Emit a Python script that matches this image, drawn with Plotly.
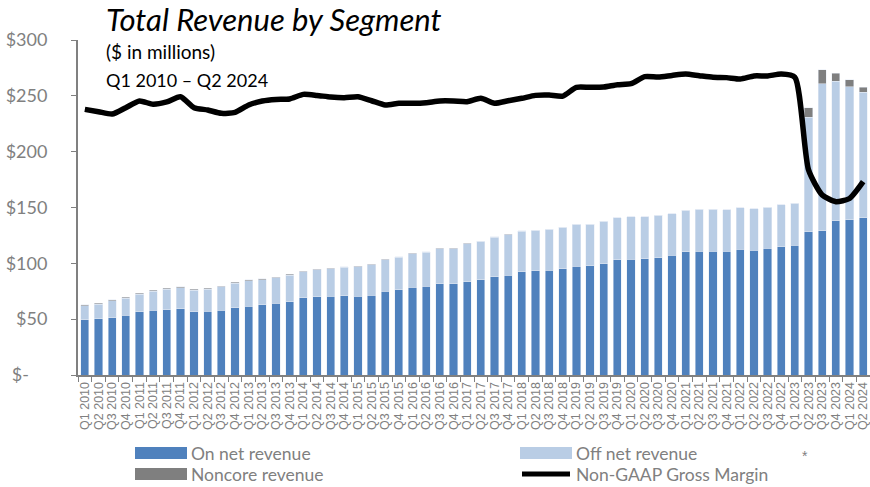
import plotly.graph_objects as go

quarters = [f"Q{q} {y}" for y in range(2010, 2025) for q in range(1, 5)][:58]

on_net = [49.3, 50.4, 51.3, 53.4, 56.7, 57.9, 58.5, 59.4, 56.7, 57.3, 58.2, 60.3, 61.5, 62.7,
          64.3, 65.7, 69.0, 70.1, 70.7, 71.0, 70.7, 71.6, 75.2, 76.4, 78.5, 79.4, 81.8, 81.8,
          83.6, 85.4, 88.0, 89.2, 92.5, 93.4, 94.0, 95.2, 97.3, 97.9, 99.7, 103.0, 103.6, 104.2,
          105.1, 107.2, 110.2, 111.0, 111.0, 110.7, 112.8, 111.9, 113.4, 114.9, 116.4, 128.1,
          129.2, 138.2, 139.1, 140.9]
total_top = [62.7, 64.2, 67.2, 69.6, 73.2, 76.1, 77.6, 79.1, 76.7, 77.6, 79.7, 83.0, 85.1, 86.0,
             87.7, 90.1, 93.1, 94.9, 95.8, 97.0, 97.6, 99.1, 103.6, 106.0, 109.0, 110.2, 113.4,
             113.4, 117.9, 120.0, 123.6, 126.0, 129.0, 129.8, 130.7, 132.5, 134.9, 135.2, 137.6,
             140.9, 141.5, 141.5, 143.0, 144.5, 147.5, 148.4, 148.4, 147.8, 149.6, 149.0, 150.4,
             152.5, 154.0, 239.4, 273.4, 270.1, 264.2, 257.6]
noncore = [0.9, 0.9, 0.9, 0.9, 0.9, 0.9, 0.8, 0.8, 0.8, 0.8, 0.8, 0.8, 0.7, 0.7,
           0.6, 0.6, 0.6, 0.6, 0.5, 0.5, 0.5, 0.5, 0.4, 0.4, 0.4, 0.4, 0.4, 0.4,
           0.3, 0.3, 0.3, 0.3, 0.3, 0.3, 0.3, 0.3, 0.0, 0.0, 0.0, 0.0, 0.0, 0.0,
           0.0, 0.0, 0.0, 0.0, 0.0, 0.0, 0.0, 0.0, 0.0, 0.0, 0.0, 8.7,
           12.5, 7.2, 6.0, 4.2]
off_net = [round(t - o - n, 1) for t, o, n in zip(total_top, on_net, noncore)]
gross_margin = [237.9, 235.8, 233.7, 239.4, 245.4, 242.4, 244.5, 249.2, 239.4, 237.3, 234.3, 235.2,
                241.8, 245.4, 246.8, 247.2, 251.3, 250.4, 248.9, 248.3, 249.2, 245.6, 241.8, 243.3,
                243.3, 243.9, 245.4, 245.4, 244.8, 247.8, 243.3, 245.6, 247.8, 250.4, 250.7, 249.8,
                257.6, 257.6, 257.9, 260.0, 260.9, 267.2, 266.9, 268.3, 269.5, 268.0, 266.6, 266.3,
                265.1, 267.8, 267.8, 269.5, 266.6, 183.6, 161.2, 155.2, 158.1, 173.1]

y_ticks = [0, 50, 100, 150, 200, 250, 300]
y_labels = ["$-\u00a0\u00a0\u00a0\u00a0", "$50", "$100", "$150", "$200", "$250", "$300"]

series_names = ["On net revenue", "Off net revenue", "Noncore revenue", "Non-GAAP Gross Margin"]
series_colors = ["#4F81BD", "#B9CDE5", "#7F7F7F", "#000000"]

GRAY = "#808080"
FONT = "Lato"
L, R, T, B = 78, 0, 40, 112
W, H = 870, 487
PW, PH = W - L - R, H - T - B


def px(xp):
    return (xp - L) / PW


def py(yp):
    return (H - B - yp) / PH


fig = go.Figure()
fig.add_trace(go.Bar(x=quarters, y=on_net, name=series_names[0], marker_color=series_colors[0]))
fig.add_trace(go.Bar(x=quarters, y=off_net, name=series_names[1], marker_color=series_colors[1]))
fig.add_trace(go.Bar(x=quarters, y=noncore, name=series_names[2], marker_color=series_colors[2]))
fig.add_trace(go.Scatter(x=quarters, y=gross_margin, name=series_names[3], mode="lines",
                         line=dict(color=series_colors[3], width=5.5, shape="spline", smoothing=0.6)))

fig.update_layout(
    width=W, height=H,
    barmode="stack", bargap=0.4,
    plot_bgcolor="white", paper_bgcolor="white",
    margin=dict(l=L, r=R, t=T, b=B, autoexpand=False),
    font=dict(family=FONT, color=GRAY),
    showlegend=False,
)
fig.update_xaxes(type="category", tickmode="array", tickvals=quarters, ticktext=quarters,
                 tickangle=-90, showline=True, linecolor=GRAY, linewidth=2,
                 ticks="outside", tickson="boundaries", ticklen=5, tickcolor=GRAY,
                 tickfont=dict(family="Liberation Sans", size=12.5, color=GRAY), showgrid=False,
                 automargin=False)
fig.update_yaxes(range=[0, 300], tickvals=y_ticks, ticktext=y_labels, showline=True,
                 linecolor=GRAY, linewidth=2, ticks="outside", ticklen=5, tickcolor=GRAY,
                 tickfont=dict(size=18, color=GRAY), showgrid=False, zeroline=False,
                 ticklabelstandoff=20, automargin=False)

# title block
fig.add_annotation(text="<i>Total Revenue by Segment</i>", xref="paper", yref="paper",
                   x=px(104), y=py(19), xanchor="left", yanchor="middle",
                   showarrow=False, font=dict(family=FONT, size=31, color="black"))
fig.add_annotation(text="($ in millions)", xref="paper", yref="paper",
                   x=px(104), y=py(51), xanchor="left", yanchor="middle",
                   showarrow=False, font=dict(family=FONT, size=19, color="black"))
fig.add_annotation(text="Q1 2010 \u2013 Q2 2024", xref="paper", yref="paper",
                   x=px(104), y=py(80), xanchor="left", yanchor="middle",
                   showarrow=False, font=dict(family=FONT, size=18, color="black"))
fig.add_annotation(text="*", xref="x", yref="paper", x="Q2 2023", xshift=-4,
                   y=py(456), yanchor="middle", showarrow=False,
                   font=dict(family="Liberation Sans", size=14, color=GRAY))

# legend (2 columns)
legend_pos = [(135, 453), (520, 453), (135, 474), (520, 474)]
for name, color, (lx, ly) in zip(series_names, series_colors, legend_pos):
    if name == series_names[3]:
        fig.add_shape(type="line", xref="paper", yref="paper", x0=px(lx + 2), x1=px(lx + 50),
                      y0=py(ly), y1=py(ly), line=dict(color=color, width=5))
    else:
        fig.add_shape(type="rect", xref="paper", yref="paper", x0=px(lx), x1=px(lx + 52),
                      y0=py(ly - 6), y1=py(ly + 6), line=dict(width=0), fillcolor=color)
    fig.add_annotation(text=name, xref="paper", yref="paper", x=px(lx + 54), y=py(ly),
                       xanchor="left", yanchor="middle", showarrow=False,
                       font=dict(family=FONT, size=17.5, color=GRAY))

fig.write_html("out.html", config={"displayModeBar": False},
               post_script="document.body.style.margin='0';")
